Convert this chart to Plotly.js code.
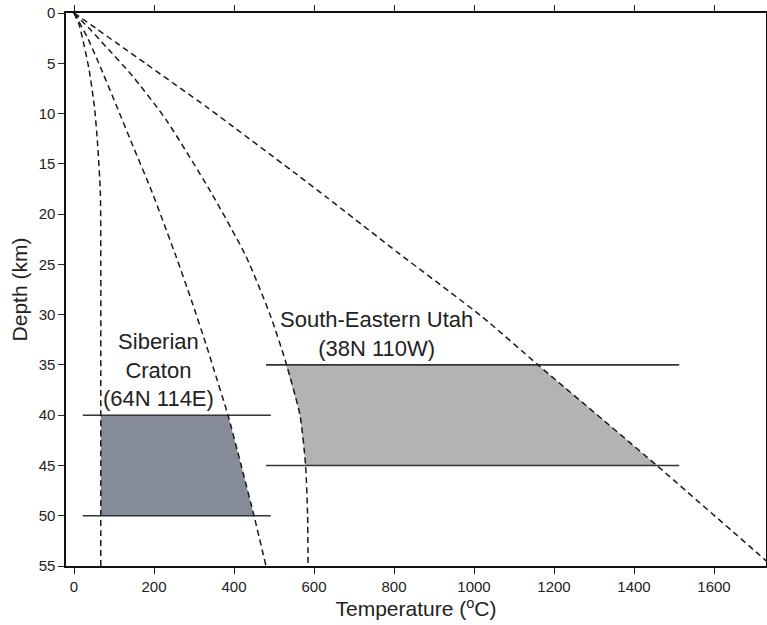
<!DOCTYPE html>
<html>
<head>
<meta charset="utf-8">
<script src="https://cdn.plot.ly/plotly-3.0.1.min.js"></script>
<style>html,body{margin:0;padding:0;background:#fff;}#chart{width:767px;height:625px;}</style>
</head>
<body>
<div id="chart"></div>
<script>
// Geotherms (temperature in °C vs depth in km)
const geo1Depth = [0, 1.2, 3.35, 5.7, 9.3, 13, 18, 25, 35, 45, 55];
const geo1Temp  = [0, 13, 26, 38, 51, 59, 66, 67, 67, 67, 67];

const geo2Depth = [0, 2.4, 5, 9.3, 13, 17.8, 24.2, 28.5, 33.2, 35.5, 40, 45, 50, 55];
const geo2Temp  = [0, 33, 62, 107, 145, 195, 255, 293, 332, 350, 385, 418, 450, 480];

const geo3Depth = [0, 1.7, 3.35, 6.3, 10.6, 17.8, 24.2, 30.2, 34.8, 40, 45, 50, 55];
const geo3Temp  = [0, 42, 80, 147, 230, 342, 430, 492, 530, 565, 579, 584, 585];

const geo4Depth = [0, 1.5, 3, 5, 9.3, 11.07, 16.3, 18.4, 23.9, 30.2, 35, 45, 55];
const geo4Temp  = [0, 54, 107, 178, 330, 390, 565, 634, 812, 1020, 1160, 1457, 1745];

// Shaded regions
const sibFillTemp  = [67, 385, 418, 450, 67, 67];
const sibFillDepth = [40, 40, 45, 50, 50, 40];
const utahFillTemp  = [530, 1160, 1310, 1457, 579, 565, 530];
const utahFillDepth = [35, 35, 40, 45, 45, 40, 35];

// Bounding horizontal lines
const sibLineTemp = [22, 492];
const sibLineDepths = [40, 50];
const utahLineTemp = [480, 1513];
const utahLineDepths = [35, 45];

// Tick values
const xTicks = [0, 200, 400, 600, 800, 1000, 1200, 1400, 1600];
const yTicks = [0, 5, 10, 15, 20, 25, 30, 35, 40, 45, 50, 55];

const traces = [];
traces.push({x: sibFillTemp, y: sibFillDepth, type: 'scatter', mode: 'lines', fill: 'toself',
  fillcolor: 'rgb(134,139,153)', line: {width: 0}, hoverinfo: 'skip'});
traces.push({x: utahFillTemp, y: utahFillDepth, type: 'scatter', mode: 'lines', fill: 'toself',
  fillcolor: 'rgb(179,179,179)', line: {width: 0}, hoverinfo: 'skip'});

sibLineDepths.forEach(d => traces.push({x: sibLineTemp, y: [d, d], type: 'scatter', mode: 'lines',
  line: {color: '#333', width: 1.6}}));
utahLineDepths.forEach(d => traces.push({x: utahLineTemp, y: [d, d], type: 'scatter', mode: 'lines',
  line: {color: '#333', width: 1.6}}));

[[geo1Temp, geo1Depth], [geo2Temp, geo2Depth], [geo3Temp, geo3Depth], [geo4Temp, geo4Depth]].forEach(g => {
  traces.push({x: g[0], y: g[1], type: 'scatter', mode: 'lines',
    line: {color: '#1a1a1a', width: 1.5, dash: '6px,4px', shape: 'spline', smoothing: 0.6}});
});

const fontFam = 'Liberation Sans, Arial, sans-serif';
const layout = {
  width: 767, height: 625,
  margin: {l: 66, r: 1, t: 13, b: 59},
  paper_bgcolor: '#fff', plot_bgcolor: '#fff',
  showlegend: false,
  font: {family: fontFam, color: '#222', size: 15},
  xaxis: {
    range: [-20, 1730], tickvals: xTicks, ticktext: xTicks.map(String),
    showgrid: false, zeroline: false, showline: true, linecolor: '#111', linewidth: 1.6,
    mirror: 'ticks', ticks: 'outside', ticklen: 6, tickwidth: 1, tickcolor: '#222',
    tickfont: {size: 15, family: fontFam, color: '#222'},
    title: {text: 'Temperature (<sup>o</sup>C)', font: {size: 21, family: fontFam, color: '#222'}, standoff: 3}
  },
  yaxis: {
    range: [55, 0], tickvals: yTicks, ticktext: yTicks.map(String),
    showgrid: false, zeroline: false, showline: true, linecolor: '#111', linewidth: 1.6,
    mirror: true, ticks: 'outside', ticklen: 6, tickwidth: 1, tickcolor: '#222',
    tickfont: {size: 15, family: fontFam, color: '#222'},
    title: {text: 'Depth (km)', font: {size: 21, family: fontFam, color: '#222'}, standoff: 5}
  },
  annotations: [
    {x: 212, y: 35.5, xref: 'x', yref: 'y', text: 'Siberian<br>Craton<br>(64N 114E)', showarrow: false,
      font: {size: 22, family: fontFam, color: '#222'}, align: 'center'},
    {x: 757, y: 31.9, xref: 'x', yref: 'y', text: 'South-Eastern Utah<br>(38N 110W)', showarrow: false,
      font: {size: 22, family: fontFam, color: '#222'}, align: 'center'}
  ]
};

Plotly.newPlot('chart', traces, layout, {staticPlot: true, displayModeBar: false});
</script>
</body>
</html>
